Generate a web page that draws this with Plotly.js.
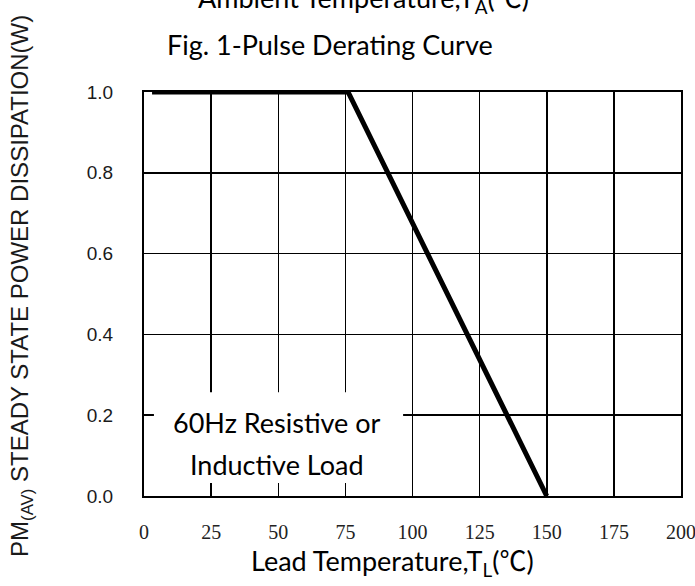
<!DOCTYPE html>
<html>
<head>
<meta charset="utf-8">
<script src="https://cdn.plot.ly/plotly-3.0.1.min.js"></script>
<style>html,body{margin:0;padding:0;background:#fff;}#chart{width:695px;height:586px;}</style>
</head>
<body>
<div id="chart"></div>
<script>
// Data
const leadTemp = [3, 76, 150];
const powerW = [1.0, 1.0, 0.0];
const xTicks = [0, 25, 50, 75, 100, 125, 150, 175, 200];
const yTicks = [0.0, 0.2, 0.4, 0.6, 0.8, 1.0];
const yTickLabels = ['0.0', '0.2', '0.4', '0.6', '0.8', '1.0'];

const calibriLike = 'Lato, "Noto Sans CJK SC", sans-serif';
const arialLike = '"Liberation Sans", Arial, sans-serif';

const trace = {
  x: leadTemp, y: powerW, type: 'scatter', mode: 'lines',
  line: {color: '#000', width: 5}, cliponaxis: false, hoverinfo: 'skip'
};

const layout = {
  width: 695, height: 586,
  margin: {l: 144, r: 14, t: 92, b: 90},
  paper_bgcolor: '#fff', plot_bgcolor: '#fff',
  showlegend: false,
  xaxis: {
    range: [0, 200], tickvals: xTicks, ticktext: xTicks.map(String),
    showgrid: true, gridcolor: '#000', gridwidth: 1.5,
    showline: true, linecolor: '#000', linewidth: 2, mirror: true,
    zeroline: false, ticks: '', ticklabelstandoff: 17, ticklabeloverflow: 'allow',
    tickfont: {family: '"Liberation Serif", serif', size: 20, color: '#222'}
  },
  yaxis: {
    range: [0, 1], tickvals: yTicks, ticktext: yTickLabels,
    showgrid: true, gridcolor: '#000', gridwidth: 1.5,
    showline: true, linecolor: '#000', linewidth: 2, mirror: true,
    zeroline: false, ticks: '', ticklabelstandoff: 25,
    tickfont: {family: arialLike, size: 19, color: '#1a1a1a'}
  },
  shapes: [{
    type: 'rect', xref: 'x', yref: 'y', x0: 3.7, x1: 96.5, y0: 0.032, y1: 0.257,
    fillcolor: '#fff', line: {width: 0}, layer: 'above'
  }],
  annotations: [
    {text: 'Ambient Temperature,T<sub>A</sub>(℃)', xref: 'paper', yref: 'paper',
     x: 0.408, y: 1.0, yshift: 93, showarrow: false, yanchor: 'middle',
     font: {family: calibriLike, size: 27, color: '#000'}},
    {text: 'Fig. 1-Pulse Derating Curve', xref: 'paper', yref: 'paper',
     x: 0.346, y: 1.0, yshift: 48, showarrow: false, yanchor: 'middle',
     font: {family: calibriLike, size: 27, color: '#000'}},
    {text: '60Hz Resistive or', xref: 'x', yref: 'y',
     x: 49.7, y: 0.183, showarrow: false, yanchor: 'middle',
     font: {family: calibriLike, size: 27, color: '#000'}},
    {text: 'Inductive Load', xref: 'x', yref: 'y',
     x: 49.7, y: 0.079, showarrow: false, yanchor: 'middle',
     font: {family: calibriLike, size: 27, color: '#000'}},
    {text: 'Lead Temperature,T<sub>L</sub>(℃)', xref: 'paper', yref: 'paper',
     x: 0.462, y: 0, yshift: -66, showarrow: false, yanchor: 'middle',
     font: {family: calibriLike, size: 27, color: '#000'}},
    {text: 'PM<sub>(AV)</sub> STEADY STATE POWER DISSIPATION(W)', xref: 'paper', yref: 'paper',
     x: 0, xshift: -122, y: 0.52, textangle: -90, showarrow: false, xanchor: 'center', yanchor: 'middle',
     font: {family: arialLike, size: 24, color: '#1a1a1a'}}
  ]
};

Plotly.newPlot('chart', [trace], layout, {displayModeBar: false, staticPlot: true});
</script>
</body>
</html>
